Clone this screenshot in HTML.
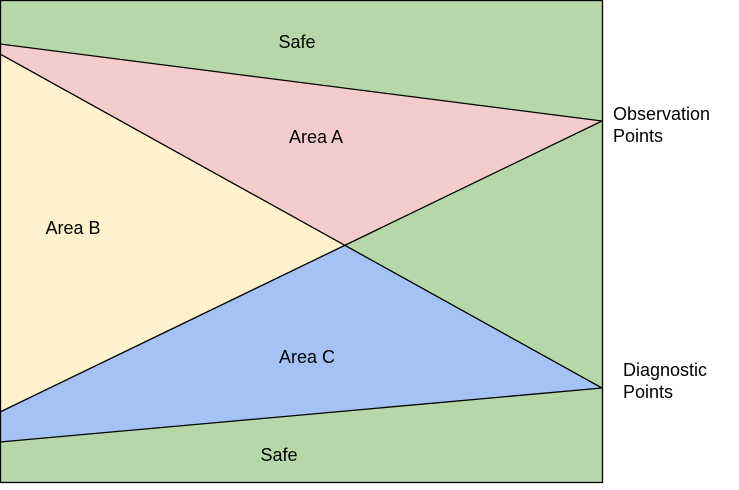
<!DOCTYPE html>
<html><head><style>
body{margin:0;background:#fff;width:739px;height:485px;overflow:hidden}
svg text{font-family:"Liberation Sans",Arial,sans-serif;font-size:18px;fill:#000}
</style></head><body>
<svg width="739" height="485" xmlns="http://www.w3.org/2000/svg">
<rect x="0.5" y="0.5" width="602" height="482" fill="#b6d7a8" stroke="#000" stroke-width="1"/>
<polygon points="0,44 602,121 346,245 0,54" fill="#f4cccc"/>
<polygon points="0,54 346,245 0,412" fill="#fff2cc"/>
<polygon points="0,412 346,245 602,388 0,442" fill="#a4c2f4"/>
<g stroke="#000" stroke-width="1.3" fill="none">
<line x1="0" y1="44" x2="602" y2="121"/>
<line x1="0" y1="54" x2="602" y2="388"/>
<line x1="0" y1="412" x2="602" y2="121"/>
<line x1="0" y1="442" x2="602" y2="388"/>
<rect x="0.5" y="0.5" width="602" height="482"/>
</g>
<text x="297" y="48" text-anchor="middle">Safe</text>
<text x="316" y="143" text-anchor="middle">Area A</text>
<text x="73" y="234" text-anchor="middle">Area B</text>
<text x="307" y="363" text-anchor="middle">Area C</text>
<text x="279" y="461" text-anchor="middle">Safe</text>
<text x="613" y="120">Observation</text>
<text x="613" y="142">Points</text>
<text x="623" y="376">Diagnostic</text>
<text x="623" y="398">Points</text>
</svg>
</body></html>
